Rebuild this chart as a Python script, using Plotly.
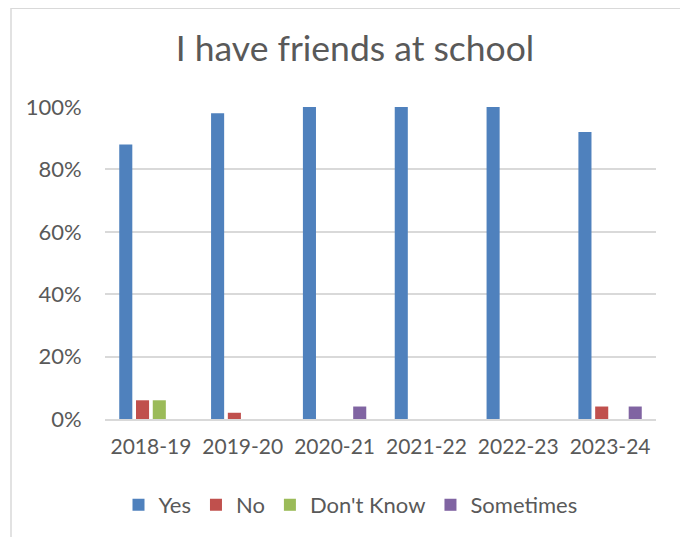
import plotly.graph_objects as go

categories = ["2018-19", "2019-20", "2020-21", "2021-22", "2022-23", "2023-24"]
yes = [0.88, 0.98, 1.00, 1.00, 1.00, 0.92]
no = [0.06, 0.02, 0, 0, 0, 0.04]
dont_know = [0.06, 0, 0, 0, 0, 0]
sometimes = [0, 0, 0.04, 0, 0, 0.04]

series = [("Yes", yes, "#4F81BD"), ("No", no, "#C0504D"),
          ("Don't Know", dont_know, "#9BBB59"), ("Sometimes", sometimes, "#8064A2")]

fig = go.Figure()
for name, vals, col in series:
    fig.add_trace(go.Bar(x=categories, y=vals, name=name, marker=dict(color=col, line=dict(width=0))))

# page body adds an 8px margin, so figure coordinates are offset by -8
W, H = 680, 529
L, R, T, B = 97, 32, 99, 117
pw, ph = W - L - R, H - T - B

def px(x):
    return (x - L) / pw

def py(y):
    return 1 - (y - T) / ph

fig.update_layout(
    width=W, height=H,
    margin=dict(l=L, r=R, t=T, b=B),
    paper_bgcolor="white", plot_bgcolor="white",
    barmode="group", bargap=0.27, bargroupgap=0.22,
    font=dict(family="Lato, Open Sans, sans-serif", color="#595959", size=22),
    title=dict(text="I have friends at school", x=347 / W, xanchor="center",
               y=1 - 41 / H, yanchor="middle", font=dict(size=35.5, color="#595959")),
    xaxis=dict(showgrid=False, showline=True, linecolor="#D9D9D9", linewidth=1.5,
               ticks="outside", ticklen=8, tickcolor="white",
               tickfont=dict(size=21, color="#595959")),
    yaxis=dict(range=[0, 1.0], tickvals=[0, 0.2, 0.4, 0.6, 0.8, 1.0], tickformat=".0%",
               showgrid=True, gridcolor="#D9D9D9", gridwidth=1.5, zeroline=False,
               showline=False, ticks="outside", ticklen=18, tickcolor="white",
               tickfont=dict(size=22, color="#595959")),
    legend=dict(orientation="h", x=0.5 - 30 / pw, xanchor="center", y=py(497), yanchor="middle",
                font=dict(size=22, color="#595959"), itemwidth=30, traceorder="normal"),
    shapes=[dict(type="rect", xref="paper", yref="paper",
                 x0=px(3), x1=px(676), y0=py(560), y1=py(0),
                 line=dict(color="#D9D9D9", width=1.5), fillcolor="rgba(0,0,0,0)", layer="below")],
)

fig.write_html("out.html")
